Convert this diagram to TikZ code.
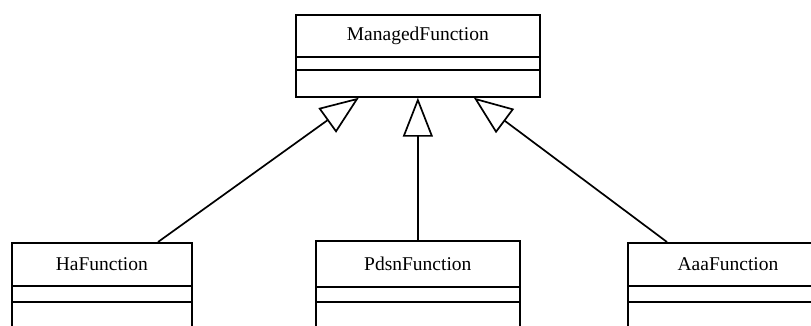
\documentclass[tikz,border=0pt]{standalone}
\usepackage{fontspec}
\setmainfont{Liberation Serif}
\usetikzlibrary{arrows.meta}
\begin{document}
\begin{tikzpicture}[x=1pt,y=-1pt,
  classbox/.style={draw, line width=1.7pt, rectangle, inner sep=0pt, anchor=north west},
  lbl/.style={font=\fontsize{19.5}{22}\selectfont, inner sep=0pt},
  divider/.style={line width=1.7pt},
  inherit/.style={line width=1.7pt, -{Triangle[open, length=39pt, width=30pt, line width=1.7pt]}}]
\useasboundingbox (0,0) rectangle (811,325);
\clip (0,0) rectangle (811,325);
% superclass
\node[classbox, minimum width=244pt, minimum height=82pt] (mf) at (295,14) {};
\node[lbl] (mft) at ([yshift=-21.5pt]mf.north) {ManagedFunction};
\draw[divider] ([yshift=-43pt]mf.north west) -- ([yshift=-43pt]mf.north east);
\draw[divider] ([yshift=-56pt]mf.north west) -- ([yshift=-56pt]mf.north east);
% subclasses
\node[classbox, minimum width=180pt, minimum height=100pt] (ha) at (11,242) {};
\node[lbl] (hat) at ([yshift=-22pt]ha.north) {HaFunction};
\draw[divider] ([yshift=-44pt]ha.north west) -- ([yshift=-44pt]ha.north east);
\draw[divider] ([yshift=-60pt]ha.north west) -- ([yshift=-60pt]ha.north east);
\node[classbox, minimum width=204pt, minimum height=100pt] (pd) at (315,240) {};
\node[lbl] (pdt) at ([yshift=-24pt]pd.north) {PdsnFunction};
\draw[divider] ([yshift=-47pt]pd.north west) -- ([yshift=-47pt]pd.north east);
\draw[divider] ([yshift=-62pt]pd.north west) -- ([yshift=-62pt]pd.north east);
\node[classbox, minimum width=210pt, minimum height=100pt] (aa) at (627,242) {};
\node[lbl] (aat) at ([xshift=101pt,yshift=-22pt]aa.north west) {AaaFunction};
\draw[divider] ([yshift=-44pt]aa.north west) -- ([yshift=-44pt]aa.north east);
\draw[divider] ([yshift=-60pt]aa.north west) -- ([yshift=-60pt]aa.north east);
% inheritance
\draw[inherit] ([xshift=147pt]ha.north west) -- ([xshift=-59pt]mf.south);
\draw[inherit] (pd.north -| mf.south) -- (mf.south);
\draw[inherit] ([xshift=40pt]aa.north west) -- ([xshift=56pt]mf.south);
\end{tikzpicture}
\end{document}
